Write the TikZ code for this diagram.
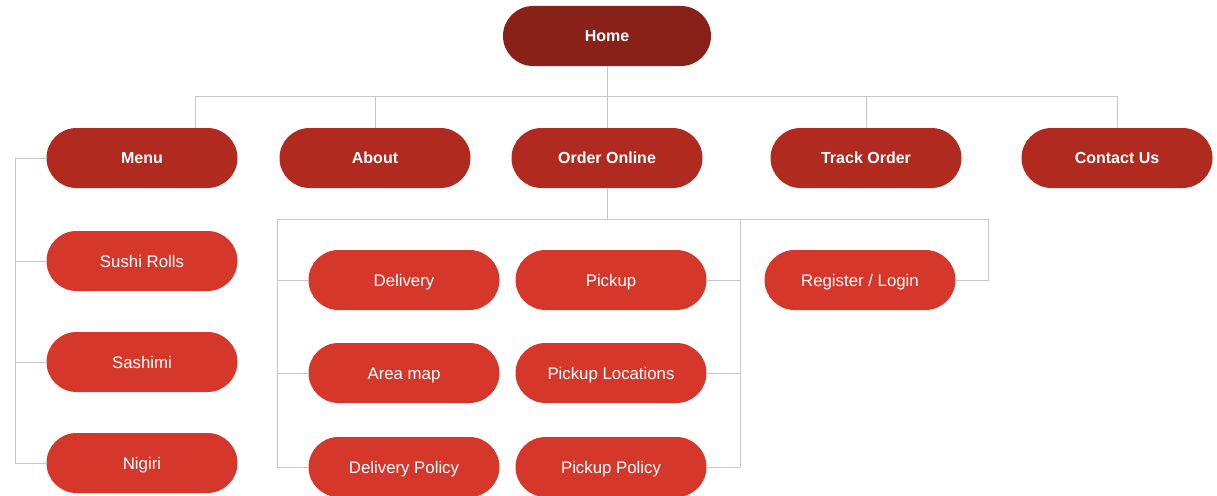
\documentclass[tikz,border=0pt]{standalone}
\usepackage{fontspec}
\setmainfont{Liberation Sans}
\usetikzlibrary{shapes.misc}
\definecolor{homefill}{RGB}{137,33,25}
\definecolor{navfill}{RGB}{176,42,32}
\definecolor{subfill}{RGB}{213,56,42}
\definecolor{linkline}{RGB}{198,198,198}

\begin{document}
\begin{tikzpicture}[x=1pt, y=-1pt,
  pill/.style={rounded rectangle, minimum width=191pt, minimum height=60pt,
               inner sep=0pt, text=white, text depth=0pt},
  home/.style={pill, fill=homefill, minimum width=208pt, text height=11.5pt,
               font=\fontsize{16}{19}\selectfont\bfseries},
  nav/.style={pill, fill=navfill, text height=11.5pt,
              font=\fontsize{16}{19}\selectfont\bfseries},
  sub/.style={pill, fill=subfill, text height=12pt,
              font=\fontsize{16.8}{20}\selectfont},
  link/.style={draw=linkline, line width=0.9pt},
]
\useasboundingbox (0,0) rectangle (1217,495);

% ---- Nodes ----
\node[home] (home)    at (607,36)  {Home};
\node[nav]  (menu)    at (142,158) {Menu};
\node[nav]  (about)   at (375,158) {About};
\node[nav]  (order)   at (607,158) {Order Online};
\node[nav]  (track)   at (866,158) {Track Order};
\node[nav]  (contact) at (1117,158){Contact Us};

\node[sub] (sushi)   at (142,261) {Sushi Rolls};
\node[sub] (sashimi) at (142,362) {Sashimi};
\node[sub] (nigiri)  at (142,463) {Nigiri};

\node[sub] (delivery) at (404,280) {Delivery};
\node[sub] (areamap)  at (404,373) {Area map};
\node[sub] (delpol)   at (404,467) {Delivery Policy};
\node[sub] (pickup)   at (611,280) {Pickup};
\node[sub] (pickloc)  at (611,373) {Pickup Locations};
\node[sub] (pickpol)  at (611,467) {Pickup Policy};
\node[sub] (login)    at (860,280) {Register / Login};

% ---- Junction points ----
\coordinate (busL)  at (195,96);
\coordinate (busR)  at (1117,96);
\coordinate (mtrunk) at (15,158);
\coordinate (oleft)  at (277,219);
\coordinate (omid)   at (740,219);
\coordinate (oright) at (988,219);

% ---- Top level ----
\draw[link] (home.south) -- (home |- busL);
\draw[link] (busL) -- (busR);
\draw[link] (busL) -- (busL |- menu.north);
\foreach \n in {about, order, track, contact}
  \draw[link] (\n |- busL) -- (\n.north);

% ---- Menu branch ----
\draw[link] (menu.west) -- (mtrunk) -- (mtrunk |- nigiri);
\foreach \n in {sushi, sashimi, nigiri}
  \draw[link] (mtrunk |- \n) -- (\n.west);

% ---- Order Online branch ----
\draw[link] (order.south) -- (order |- oleft);
\draw[link] (oleft) -- (oright);
\draw[link] (oleft) -- (oleft |- delpol);
\foreach \n in {delivery, areamap, delpol}
  \draw[link] (oleft |- \n) -- (\n.west);
\draw[link] (omid) -- (omid |- pickpol);
\foreach \n in {pickup, pickloc, pickpol}
  \draw[link] (\n.east) -- (omid |- \n);
\draw[link] (oright) -- (oright |- login) -- (login.east);
\end{tikzpicture}
\end{document}
